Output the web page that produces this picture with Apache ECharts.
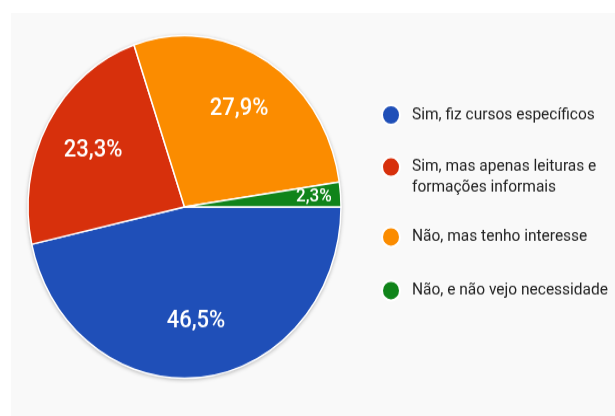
<!DOCTYPE html>
<html>
<head>
<meta charset="utf-8">
<script src="https://cdn.jsdelivr.net/npm/echarts@6/dist/echarts.min.js"></script>
<style>
  html, body { margin: 0; padding: 0; width: 615px; height: 416px; overflow: hidden; background: #fff; }
  #panel { position: absolute; left: 11px; top: 13px; right: 0; bottom: 0; background: #f9f9f9; }
  /* the source screenshot is stretched vertically, so the chart is too */
  #chart { position: absolute; left: 0; top: 0; width: 615px; height: 380px; transform: scaleY(1.0947); transform-origin: 0 0; }
</style>
</head>
<body>
<div id="panel"></div>
<div id="chart"></div>
<script>
// respostas (43 no total)
const categories = [
  'Sim, fiz cursos específicos',
  'Sim, mas apenas leituras e\nformações informais',
  'Não, mas tenho interesse',
  'Não, e não vejo necessidade'
]
const counts = [20, 10, 12, 1]
const colors = ['#1f4fb8', '#d7300c', '#fb8c00', '#10841a']

const chart = echarts.init(document.getElementById('chart'))

const CENTER = [184.5, 189.1]
const R = 156.5

const pieData = categories.map((name, i) => ({ name, value: counts[i] }))
const fmt = p => p.percent.toFixed(1).replace('.', ',') + '%'

const labelBase = {
  position: 'inside',
  color: '#fff',
  fontFamily: 'Roboto',
  fontWeight: 500,
  formatter: fmt
}

// uma legenda por item para acertar as alturas
const LH = 19
const legendCenters = [104.5, 152.6, 215.9, 264.9]
const legends = categories.map((name, i) => {
  const twoLines = name.indexOf('\n') >= 0
  return {
    data: [name],
    orient: 'vertical',
    left: 381,
    // texto de duas linhas: linha vazia em cima para o ícone ficar na 1a linha
    top: twoLines ? legendCenters[i] - 1.5 * LH : legendCenters[i] - LH / 2,
    padding: 0,
    icon: 'circle',
    itemWidth: 20,
    itemHeight: 18,
    selectedMode: false,
    formatter: n => (twoLines ? '\u00a0\n' + n : n),
    textStyle: {
      fontFamily: 'Roboto',
      fontSize: 15.5,
      lineHeight: LH,
      color: '#222',
      padding: [0, 0, 0, 6]
    }
  }
})

const option = {
  animation: false,
  color: colors,
  legend: legends,
  series: [
    {
      // sombra leve atrás da pizza
      type: 'pie',
      silent: true,
      center: CENTER,
      radius: R,
      data: [{ value: 1, name: '' }],
      label: { show: false },
      labelLine: { show: false },
      itemStyle: { color: '#fff', shadowBlur: 4, shadowColor: 'rgba(0,0,0,0.35)', shadowOffsetY: 1 }
    },
    {
      type: 'pie',
      silent: true,
      center: CENTER,
      radius: R,
      startAngle: 0,
      percentPrecision: 1,
      data: pieData,
      label: { show: false },
      labelLine: { show: false },
      itemStyle: { borderColor: '#fff', borderWidth: 1.5 }
    },
    {
      // rótulos das fatias grandes (a ~0.65 do raio)
      type: 'pie',
      silent: true,
      center: CENTER,
      radius: [R * 0.3, R],
      startAngle: 0,
      percentPrecision: 1,
      data: pieData.map((d, i) => ({
        ...d,
        label: { show: i !== 3 }
      })),
      label: { ...labelBase, fontSize: 22 },
      labelLine: { show: false },
      itemStyle: { color: 'rgba(0,0,0,0)' }
    },
    {
      // rótulo da fatia pequena, mais perto da borda
      type: 'pie',
      silent: true,
      center: CENTER,
      radius: [R * 0.62, R],
      startAngle: 0,
      percentPrecision: 1,
      data: pieData.map((d, i) => ({
        ...d,
        label: { show: i === 3 }
      })),
      label: { ...labelBase, fontSize: 17 },
      labelLine: { show: false },
      itemStyle: { color: 'rgba(0,0,0,0)' }
    }
  ]
}

chart.setOption(option)
</script>
</body>
</html>
